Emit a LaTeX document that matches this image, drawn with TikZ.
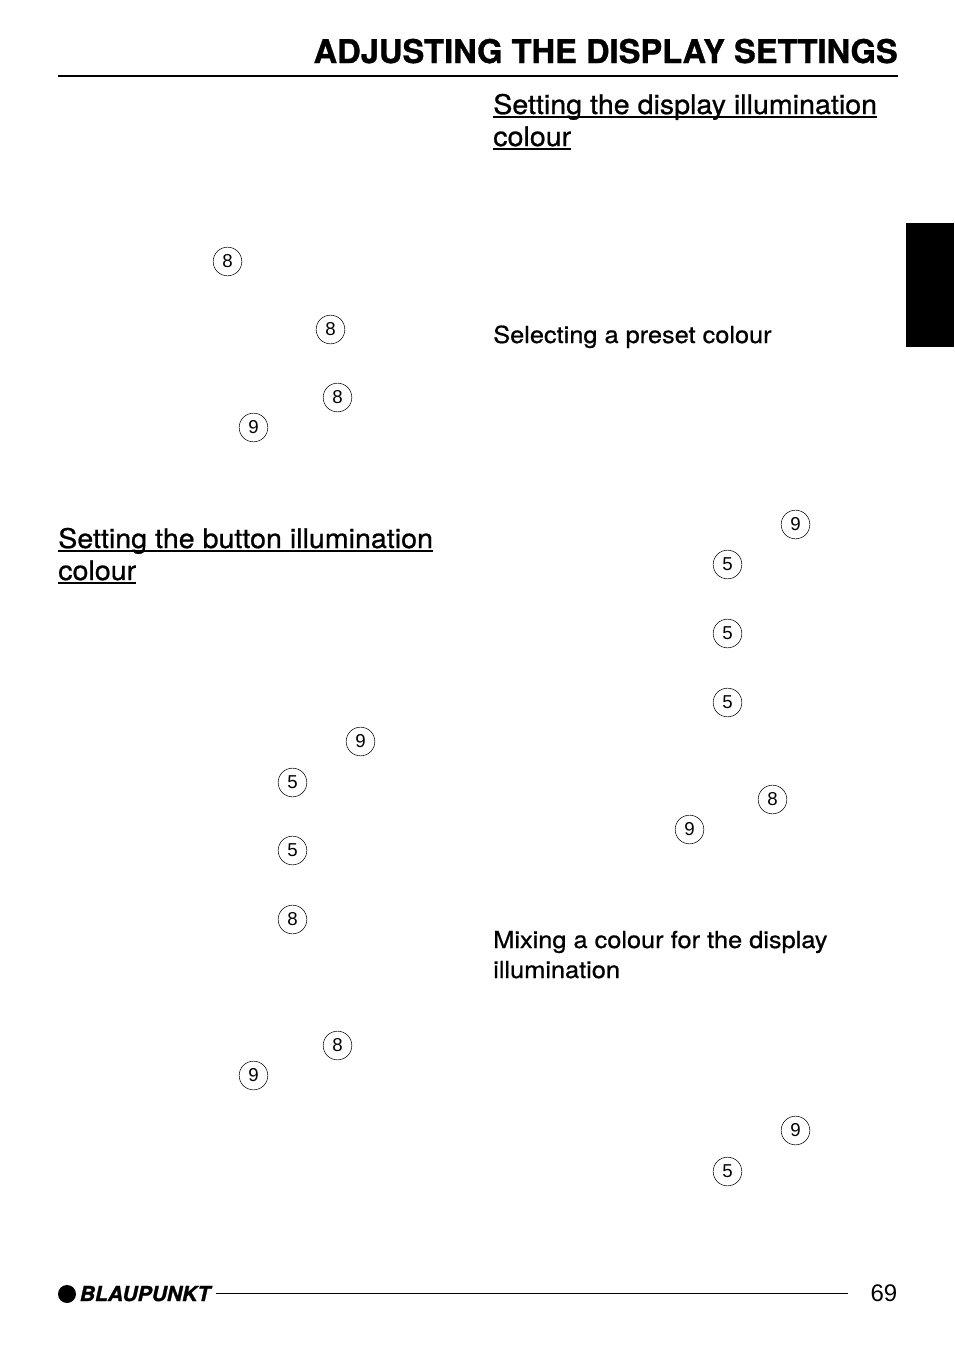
\documentclass[tikz,border=0pt]{standalone}
\usepackage{fontspec}
\setmainfont{TeX Gyre Heros}
\newfontfamily\numfont{Liberation Sans}
\newfontfamily\headfont[FakeBold=0.8,FakeStretch=1.06]{TeX Gyre Heros}
\newfontfamily\subfont[FakeBold=0.7,FakeStretch=1.08]{TeX Gyre Heros}
\newfontfamily\titlefont[FakeBold=1.0]{TeX Gyre Heros Bold}
\newfontfamily\logofont[FakeBold=1.2,FakeStretch=1.02]{TeX Gyre Heros Bold Italic}
\tikzset{
  ref/.style={circle,draw,line width=0.4pt,minimum size=21.5pt,inner sep=0pt,font=\numfont\fontsize{14}{14}\selectfont},
  head/.style={anchor=base west,inner sep=0pt,font=\headfont\fontsize{20.25}{24}\selectfont},
  sub/.style={anchor=base west,inner sep=0pt,font=\subfont\fontsize{17.6}{22}\selectfont},
}
\begin{document}
\begin{tikzpicture}[x=1pt,y=-1pt,line cap=butt]
\useasboundingbox (0,0) rectangle (715.5,1011.75);
\fill[white] (0,0) rectangle (715.5,1011.75);
\begin{scope}[x=0.75pt,y=-0.75pt]
\node[anchor=base east,inner sep=0pt,font=\titlefont\fontsize{24.5}{28}\selectfont] (title) at (898,63) {ADJUSTING THE DISPLAY SETTINGS};
\coordinate (ra) at (58,75.5); \coordinate (rb) at (898,75.5);
\draw[line width=1.5pt] (ra) -- (rb);
\fill[black] (906,223) rectangle (954,347);
\node[head] (h1) at (493,114) {Setting the display illumination};
\node[head] (h2) at (493,146) {colour};
\node[head] (h3) at (58,548) {Setting the button illumination};
\node[head] (h4) at (58,580) {colour};
\foreach \n in {h1,h2,h3,h4}{\draw[line width=1pt] ([yshift=-2.2pt]\n.base west) -- ([yshift=-2.2pt]\n.base east);}
\node[sub] (s1) at (493,343) {Selecting a preset colour};
\node[sub] (s2) at (493,948) {Mixing a colour for the display};
\node[sub] (s3) at (493,978) {illumination};
\foreach \x/\y/\t/\k in {227.5/261.5/8/a,330.5/329.5/8/b,337.5/397.5/8/c,253.5/427.5/9/d,360.5/741.5/9/e,292.5/782.5/5/f,292.5/850.5/5/g,292.5/919.5/8/h,337.5/1045.5/8/i,253.5/1075.5/9/j,795.5/524.5/9/k,727.5/564.5/5/l,727.5/633.5/5/m,727.5/702.5/5/n,772.5/799.5/8/o,689.5/829.5/9/p,795.5/1130.5/9/q,727.5/1171.5/5/r}
  {\node[ref] (c\k) at (\x,\y) {\t};}
\fill[black] (67,1294) circle (9);
\node[anchor=base west,inner sep=0pt,font=\logofont\fontsize{15.5}{20}\selectfont] (logo) at (79.5,1301) {BLAUPUNKT};
\coordinate (fa) at (216,1293); \coordinate (fb) at (848,1293);
\draw[line width=0.7pt] (fa) -- (fb);
\node[anchor=base east,inner sep=0pt,font=\numfont\fontsize{18}{20}\selectfont] (pg) at (897.5,1301.5) {69};
\end{scope}
\end{tikzpicture}
\end{document}
